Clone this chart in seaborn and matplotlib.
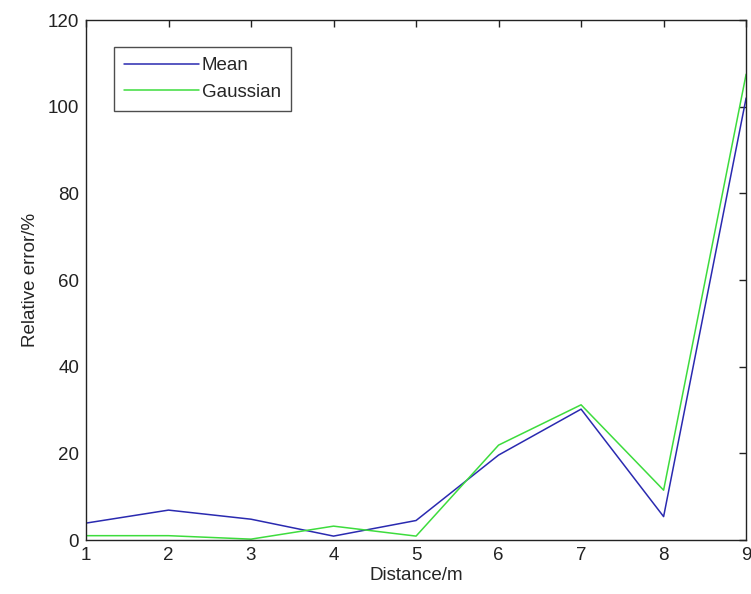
import matplotlib
matplotlib.use("Agg")
import matplotlib.pyplot as plt
import seaborn as sns
import pandas as pd

# relative error (%) per distance
distance = [1, 2, 3, 4, 5, 6, 7, 8, 9]
mean_err = [3.9, 6.9, 4.8, 0.9, 4.5, 19.6, 30.2, 5.4, 102]
gauss_err = [1.0, 1.0, 0.2, 3.2, 0.9, 21.9, 31.2, 11.5, 107.5]

df = pd.DataFrame({"Distance": distance * 2,
                   "Error": mean_err + gauss_err,
                   "Method": ["Mean"] * 9 + ["Gaussian"] * 9})

sns.set_style("white")
plt.rcParams['font.family'] = ['Liberation Sans', 'DejaVu Sans']

fig = plt.figure(figsize=(7.51, 5.94), dpi=100)
ax = fig.add_axes([0.1145, 0.0909, 0.879, 0.8754])

sns.lineplot(data=df, x="Distance", y="Error", hue="Method",
             palette={"Mean": "#2a2ab0", "Gaussian": "#3ddc3d"},
             linewidth=1.1, ax=ax)

ax.set_xlim(1, 9)
ax.set_ylim(0, 120)
ax.set_xticks(range(1, 10))
ax.set_yticks(range(0, 121, 20))
ax.tick_params(direction="in", length=5, width=1, top=True, right=True,
               labelsize=13.5, colors="#222222", pad=5)
for s in ax.spines.values():
    s.set_color("#222222")
    s.set_linewidth(1)

ax.set_xlabel("Distance/m", fontsize=13.5, labelpad=2)
ax.set_ylabel("Relative error/%", fontsize=13.5, labelpad=6)

leg = ax.legend(loc="upper left", bbox_to_anchor=(0.042, 0.948),
                fontsize=13.5, frameon=True, fancybox=False,
                handlelength=4.0, handletextpad=0.15, borderpad=0.55,
                labelspacing=0.5, borderaxespad=0)
leg.get_frame().set_edgecolor("#222222")
leg.get_frame().set_linewidth(1)

fig.savefig("out.png", dpi=100)
